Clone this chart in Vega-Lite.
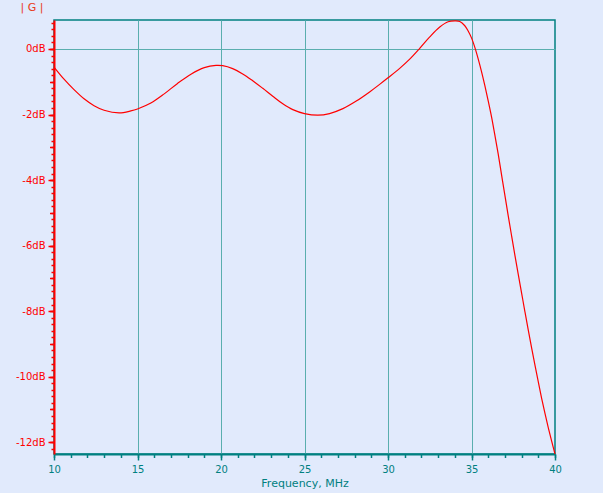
{
  "$schema": "https://vega.github.io/schema/vega-lite/v6.json",
  "width": 501,
  "height": 434,
  "autosize": {"type": "none"},
  "padding": {"left": 54, "top": 20, "right": 48, "bottom": 39},
  "background": "#e1eafc",
  "config": {
    "view": {"stroke": "#008080", "strokeWidth": 1.5, "fill": "#e1eafc"},
    "axis": {"labelFont": "DejaVu Sans", "titleFont": "DejaVu Sans", "labelFontSize": 10, "titleFontSize": 11, "titleFontWeight": "normal"}
  },
  "data": {
    "values": [
      {"f": 10, "g": -0.55}, {"f": 10.6, "g": -0.92}, {"f": 11.2, "g": -1.24}, {"f": 11.8, "g": -1.52},
      {"f": 12.4, "g": -1.73}, {"f": 13.0, "g": -1.87}, {"f": 13.9, "g": -1.95}, {"f": 14.6, "g": -1.89},
      {"f": 15.0, "g": -1.83}, {"f": 15.8, "g": -1.65}, {"f": 16.6, "g": -1.37}, {"f": 17.4, "g": -1.05},
      {"f": 18.2, "g": -0.77}, {"f": 19.0, "g": -0.57}, {"f": 19.7, "g": -0.5}, {"f": 20.1, "g": -0.51},
      {"f": 20.7, "g": -0.6}, {"f": 21.3, "g": -0.76}, {"f": 21.9, "g": -0.97}, {"f": 22.5, "g": -1.2},
      {"f": 23.1, "g": -1.44}, {"f": 23.7, "g": -1.67}, {"f": 24.3, "g": -1.85}, {"f": 25.0, "g": -1.97},
      {"f": 25.8, "g": -2.02}, {"f": 26.5, "g": -1.97}, {"f": 27.3, "g": -1.82}, {"f": 28.1, "g": -1.59},
      {"f": 28.9, "g": -1.31}, {"f": 29.5, "g": -1.08}, {"f": 30.0, "g": -0.88}, {"f": 30.7, "g": -0.59},
      {"f": 31.3, "g": -0.31}, {"f": 31.9, "g": 0.02}, {"f": 32.5, "g": 0.37}, {"f": 33.1, "g": 0.67},
      {"f": 33.6, "g": 0.83}, {"f": 34.0, "g": 0.857}, {"f": 34.3, "g": 0.84}, {"f": 34.6, "g": 0.71},
      {"f": 34.8, "g": 0.55}, {"f": 35.0, "g": 0.34}, {"f": 35.2, "g": 0.05}, {"f": 35.4, "g": -0.3},
      {"f": 35.6, "g": -0.69}, {"f": 35.8, "g": -1.12}, {"f": 36.0, "g": -1.58}, {"f": 36.2, "g": -2.07},
      {"f": 36.4, "g": -2.63}, {"f": 36.6, "g": -3.21}, {"f": 36.8, "g": -3.84}, {"f": 37.0, "g": -4.47},
      {"f": 37.2, "g": -5.09}, {"f": 37.4, "g": -5.7}, {"f": 37.6, "g": -6.3}, {"f": 37.8, "g": -6.88},
      {"f": 38.0, "g": -7.45}, {"f": 38.2, "g": -8.02}, {"f": 38.4, "g": -8.58}, {"f": 38.6, "g": -9.12},
      {"f": 38.8, "g": -9.65}, {"f": 39.0, "g": -10.16}, {"f": 39.2, "g": -10.66}, {"f": 39.4, "g": -11.12},
      {"f": 39.6, "g": -11.56}, {"f": 39.8, "g": -11.97}, {"f": 40.0, "g": -12.36}
    ]
  },
  "resolve": {"axis": {"x": "independent", "y": "independent"}},
  "layer": [
    {
      "mark": {"type": "line", "strokeOpacity": 0},
      "encoding": {
        "x": {"field": "f", "type": "quantitative", "scale": {"domain": [10, 40], "nice": false, "zero": false},
          "axis": {"orient": "bottom", "values": [15, 20, 25, 30, 35], "grid": true, "gridColor": "#5aaeae", "gridWidth": 1, "gridOpacity": 1,
            "ticks": false, "labels": false, "domain": false, "title": null}},
        "y": {"field": "g", "type": "quantitative", "scale": {"domain": [-12.36, 0.885], "nice": false, "zero": false},
          "axis": {"orient": "left", "values": [0], "grid": true, "gridColor": "#5aaeae", "gridWidth": 1, "gridOpacity": 1,
            "ticks": false, "labels": false, "domain": false, "title": null}}
      }
    },
    {
      "mark": {"type": "line", "strokeOpacity": 0},
      "encoding": {
        "x": {"field": "f", "type": "quantitative",
          "axis": {"orient": "bottom", "values": [10,11,12,13,14,15,16,17,18,19,20,21,22,23,24,25,26,27,28,29,30,31,32,33,34,35,36,37,38,39,40],
            "grid": false, "tickSize": 3.5, "tickColor": "#008080", "tickWidth": 1.5, "labels": false, "domain": false, "title": null}},
        "y": {"field": "g", "type": "quantitative",
          "axis": {"orient": "left", "values": [-12.2,-12,-11.8,-11.6,-11.4,-11.2,-11,-10.8,-10.6,-10.4,-10.2,-10,-9.8,-9.6,-9.4,-9.2,-9,-8.8,-8.6,-8.4,-8.2,-8,-7.8,-7.6,-7.4,-7.2,-7,-6.8,-6.6,-6.4,-6.2,-6,-5.8,-5.6,-5.4,-5.2,-5,-4.8,-4.6,-4.4,-4.2,-4,-3.8,-3.6,-3.4,-3.2,-3,-2.8,-2.6,-2.4,-2.2,-2,-1.8,-1.6,-1.4,-1.2,-1,-0.8,-0.6,-0.4,-0.2,0,0.2,0.4,0.6,0.8],
            "grid": false, "tickSize": 3, "tickColor": "#ff0000", "tickWidth": 1.5, "labels": false, "domain": false, "title": null}}
      }
    },
    {
      "mark": {"type": "line", "strokeOpacity": 0},
      "encoding": {
        "x": {"field": "f", "type": "quantitative",
          "axis": {"orient": "bottom", "values": [10, 15, 20, 25, 30, 35, 40], "grid": false, "tickSize": 6, "tickColor": "#008080", "tickWidth": 1.5,
            "domain": true, "domainColor": "#008080", "domainWidth": 2,
            "labelColor": "#008080", "labelPadding": 4, "labelFlush": false,
            "title": "Frequency, MHz", "titleColor": "#008080", "titlePadding": 3}},
        "y": {"field": "g", "type": "quantitative",
          "axis": {"orient": "left", "values": [-12, -11, -10, -9, -8, -7, -6, -5, -4, -3, -2, -1, 0], "grid": false, "tickSize": 4.5, "tickColor": "#ff0000", "tickWidth": 1.5,
            "labels": false, "domain": false, "title": null}}
      }
    },
    {
      "mark": {"type": "line", "color": "#ff0000", "strokeWidth": 1.2, "interpolate": "catmull-rom"},
      "encoding": {
        "x": {"field": "f", "type": "quantitative",
          "axis": {"orient": "bottom", "values": [10], "ticks": false, "labels": false, "grid": false, "domain": false, "title": null}},
        "y": {"field": "g", "type": "quantitative",
          "axis": {"orient": "left", "values": [-12, -10, -8, -6, -4, -2, 0], "grid": false, "tickSize": 6, "tickColor": "#ff0000", "tickWidth": 1.5,
            "domain": true, "domainColor": "#ff0000", "domainWidth": 2,
            "labelColor": "#ff0000", "labelPadding": 3, "labelFlush": false,
            "labelExpr": "datum.value + 'dB'",
            "title": "| G |", "titleColor": "#e83a20", "titleFontSize": 11, "titleAngle": 0,
            "titleX": -34, "titleY": -13, "titleAlign": "left", "titleBaseline": "middle"}}
      }
    }
  ]
}
